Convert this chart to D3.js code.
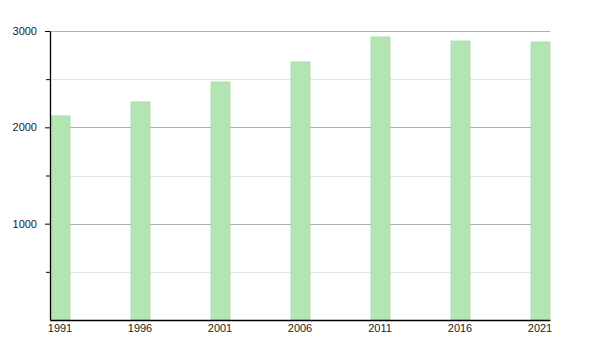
<!DOCTYPE html>
<html>
<head>
<meta charset="utf-8">
<script src="https://cdn.jsdelivr.net/npm/d3@7"></script>
<style>
  body { margin: 0; background: #fff; }
  svg { display: block; }
</style>
</head>
<body>
<svg width="600" height="350"></svg>
<script>
// population by census year
var years = [1991, 1996, 2001, 2006, 2011, 2016, 2021];
var values = [2119, 2264, 2471, 2679, 2938, 2896, 2886];
var majorTicks = [1000, 2000, 3000];
var minorTicks = [500, 1500, 2500];

var margin = {top: 31, right: 50, bottom: 30, left: 50},
    width = 600 - margin.left - margin.right,
    height = 350 - margin.top - margin.bottom;

var svg = d3.select("svg")
    .append("g").attr("transform", "translate(" + margin.left + "," + margin.top + ")");

// one bar is 1.25 years wide, the axis runs to the end of the last bar
var x = d3.scaleLinear().domain([1991, 2022.25]).range([0, width]),
    y = d3.scaleLinear().domain([0, 3000]).range([height, 0]);
var barW = x(1992.25) - x(1991);

// grid lines
svg.append("g")
    .selectAll("line.minor")
    .data(minorTicks)
    .enter().append("line")
    .attr("x1", 0).attr("x2", width)
    .attr("y1", function(d) { return Math.round(y(d)) + 0.5; })
    .attr("y2", function(d) { return Math.round(y(d)) + 0.5; })
    .style("stroke", "#e2e2e2");

svg.append("g")
    .selectAll("line.major")
    .data(majorTicks)
    .enter().append("line")
    .attr("x1", 0).attr("x2", width)
    .attr("y1", function(d) { return Math.round(y(d)) + 0.5; })
    .attr("y2", function(d) { return Math.round(y(d)) + 0.5; })
    .style("stroke", "#b0b0b0");

// bars
svg.append("g")
    .selectAll("rect")
    .data(years)
    .enter().append("rect")
    .attr("x", function(d) { return x(d) + 1; })
    .attr("y", function(d, i) { return y(values[i]); })
    .attr("width", barW - 1)
    .attr("height", function(d, i) { return height - y(values[i]); })
    .attr("fill", "#b3e5b3")
    .style("stroke", "#a8dca8")
    .style("stroke-width", 0.8);

// y axis, minor ticks without labels
svg.append("g")
    .call(d3.axisLeft(y).tickValues(minorTicks).tickSize(4).tickFormat(""))
    .call(function(g) { g.select(".domain").remove(); });

svg.append("g")
    .attr("font-family", "Liberation Sans, Arial, sans-serif")
    .call(d3.axisLeft(y).tickValues(majorTicks).tickSize(5).tickSizeOuter(0).tickPadding(8).tickFormat(d3.format("d")))
    .call(function(g) {
        g.select(".domain").attr("stroke-width", 1.3);
        g.selectAll(".tick text").attr("font-size", 11).style("fill", "#222");
    });

// x axis
svg.append("g")
    .attr("transform", "translate(0," + height + ")")
    .attr("font-family", "Liberation Sans, Arial, sans-serif")
    .call(d3.axisBottom(x).tickValues(years).tickSize(0).tickSizeOuter(0).tickPadding(4).tickFormat(d3.format("d")))
    .call(function(g) {
        g.select(".domain").attr("stroke-width", 1.3);
        g.selectAll(".tick").attr("transform", function(d) { return "translate(" + (x(d) + barW / 2) + ",0)"; });
        g.selectAll(".tick text").attr("font-size", 11).style("fill", "#222");
    });
</script>
</body>
</html>
